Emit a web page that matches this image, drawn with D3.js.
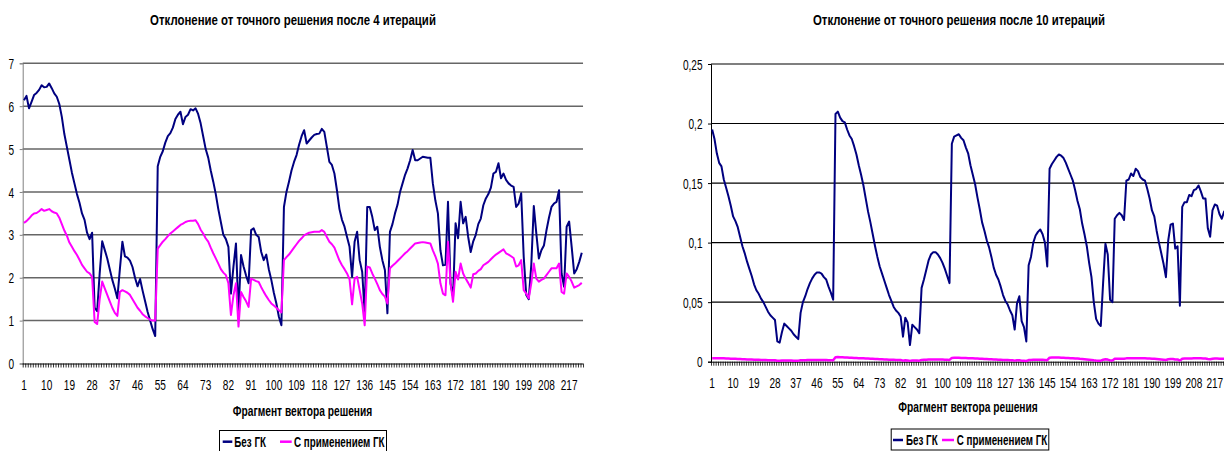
<!DOCTYPE html>
<html>
<head>
<meta charset="utf-8">
<script src="https://cdn.jsdelivr.net/npm/d3@7"></script>
<style>
  body { margin: 0; background: #fff; }
  svg text { font-family: "Liberation Sans", Arial, sans-serif; fill: #000; }
</style>
</head>
<body>
<svg id="chart" width="1224" height="451"></svg>
<script>
var categories = d3.range(1, 223),
    xLabels = [1, 10, 19, 28, 37, 46, 55, 64, 73, 82, 91, 100, 109, 118, 127, 136, 145, 154, 163, 172, 181, 190, 199, 208, 217],
    yTicks4 = [0, 1, 2, 3, 4, 5, 6, 7],
    yTicks10 = [0, 0.05, 0.1, 0.15, 0.2, 0.25],
    seriesNames = ["Без ГК", "С применением ГК"],
    titles = ["Отклонение от точного решения после 4 итераций", "Отклонение от точного решения после 10 итераций"],
    xTitle = "Фрагмент вектора решения";

// после 4 итераций
var noGK4 = [
  6.14,6.24,5.95,6.10,6.26,6.31,6.38,6.49,6.44,6.45,
  6.53,6.42,6.30,6.22,6.05,5.75,5.35,5.05,4.75,4.45,
  4.20,3.95,3.75,3.50,3.35,3.05,2.90,3.05,1.30,1.22,
  2.10,2.85,2.65,2.45,2.20,1.95,1.75,1.52,2.20,2.84,
  2.50,2.47,2.40,2.25,2.00,1.80,1.97,1.70,1.45,1.20,
  1.00,0.80,0.64,4.60,4.82,4.95,5.15,5.30,5.37,5.50,
  5.70,5.80,5.87,5.58,5.75,5.80,5.93,5.90,5.95,5.82,
  5.60,5.30,5.00,4.80,4.50,4.24,3.95,3.60,3.30,3.00,
  2.90,2.72,1.63,2.26,2.80,1.17,2.53,2.26,2.05,1.87,
  3.11,3.15,3.00,2.95,2.60,2.41,2.54,2.20,1.95,1.65,
  1.40,1.09,0.89,3.65,4.00,4.24,4.50,4.70,4.86,5.10,
  5.30,5.44,5.13,5.20,5.27,5.33,5.35,5.36,5.47,5.40,
  5.05,4.70,4.63,4.43,4.04,3.60,3.35,3.19,2.95,2.72,
  2.02,2.84,3.07,2.41,2.14,1.17,3.65,3.65,3.42,3.11,
  3.19,2.72,2.41,2.18,1.17,3.07,3.25,3.50,3.70,4.00,
  4.20,4.40,4.55,4.74,4.98,4.74,4.74,4.78,4.82,4.81,
  4.80,4.80,4.20,3.80,3.50,2.64,2.29,2.30,3.77,1.87,
  1.56,3.27,2.92,3.77,3.27,3.42,2.95,2.60,2.85,3.00,
  3.25,3.38,3.69,3.85,3.95,4.10,4.43,4.47,4.67,4.32,
  4.43,4.28,4.20,4.15,4.12,3.65,3.73,3.97,2.49,1.60,
  1.50,2.30,3.67,3.03,2.45,2.64,2.75,3.10,3.40,3.65,
  3.73,3.77,4.04,2.10,1.79,3.19,3.31,2.72,2.10,2.20,
  2.37,2.58
];
var withGK4 = [
  3.28,3.32,3.38,3.45,3.50,3.51,3.55,3.60,3.56,3.58,
  3.60,3.55,3.52,3.50,3.40,3.25,3.10,2.98,2.82,2.72,
  2.62,2.53,2.42,2.30,2.22,2.14,2.10,2.02,0.97,0.92,
  1.50,1.91,1.75,1.60,1.45,1.30,1.18,1.11,1.67,1.71,
  1.68,1.65,1.60,1.50,1.40,1.30,1.23,1.15,1.10,1.06,
  1.02,1.00,1.00,2.68,2.76,2.84,2.90,2.97,3.03,3.08,
  3.13,3.18,3.23,3.26,3.30,3.32,3.33,3.33,3.34,3.25,
  3.12,3.03,2.92,2.84,2.70,2.57,2.45,2.33,2.20,2.12,
  2.06,1.87,1.13,1.59,1.87,0.86,1.67,1.55,1.45,1.32,
  1.98,1.95,1.92,1.90,1.78,1.67,1.57,1.48,1.40,1.35,
  1.30,1.24,1.19,2.41,2.48,2.54,2.62,2.70,2.78,2.86,
  2.92,2.99,3.02,3.05,3.06,3.07,3.07,3.07,3.11,3.07,
  2.95,2.84,2.78,2.70,2.55,2.40,2.29,2.20,2.10,1.96,
  1.38,1.98,2.02,1.71,1.40,0.89,2.26,2.24,2.10,1.98,
  1.85,1.71,1.62,1.56,1.40,2.22,2.28,2.33,2.39,2.45,
  2.51,2.57,2.62,2.68,2.74,2.80,2.81,2.82,2.83,2.82,
  2.81,2.80,2.64,2.50,2.33,1.87,1.63,1.59,2.84,1.87,
  1.44,2.14,1.96,2.33,2.10,1.98,1.88,1.77,2.08,2.10,
  2.16,2.20,2.29,2.33,2.37,2.43,2.49,2.54,2.58,2.62,
  2.66,2.57,2.54,2.50,2.46,2.26,2.29,2.41,1.71,1.63,
  1.52,1.87,2.33,1.98,1.91,1.95,1.98,2.06,2.14,2.22,
  2.22,2.22,2.33,1.67,1.63,2.10,2.02,1.91,1.77,1.80,
  1.83,1.88
];

// после 10 итераций
var noGK10 = [
  0.195,0.187,0.175,0.167,0.164,0.153,0.146,0.139,0.131,0.122,
  0.118,0.113,0.105,0.097,0.091,0.084,0.078,0.072,0.065,0.060,
  0.057,0.053,0.050,0.046,0.042,0.039,0.037,0.035,0.017,0.016,
  0.025,0.032,0.030,0.028,0.026,0.023,0.021,0.019,0.041,0.050,
  0.055,0.061,0.066,0.070,0.073,0.075,0.075,0.074,0.071,0.069,
  0.063,0.058,0.052,0.208,0.210,0.205,0.202,0.201,0.195,0.190,
  0.187,0.181,0.174,0.165,0.157,0.148,0.137,0.126,0.117,0.107,
  0.097,0.088,0.080,0.074,0.068,0.062,0.056,0.051,0.046,0.043,
  0.041,0.038,0.021,0.037,0.033,0.014,0.031,0.029,0.027,0.024,
  0.062,0.069,0.077,0.085,0.090,0.092,0.092,0.090,0.087,0.083,
  0.078,0.072,0.066,0.183,0.189,0.190,0.191,0.188,0.186,0.180,
  0.175,0.165,0.157,0.149,0.138,0.128,0.117,0.110,0.102,0.096,
  0.088,0.079,0.073,0.069,0.063,0.056,0.051,0.048,0.043,0.039,
  0.027,0.049,0.055,0.034,0.029,0.017,0.081,0.088,0.100,0.106,
  0.109,0.111,0.107,0.100,0.080,0.162,0.166,0.169,0.172,0.174,
  0.173,0.171,0.167,0.162,0.157,0.152,0.144,0.135,0.128,0.116,
  0.107,0.097,0.083,0.071,0.050,0.036,0.032,0.030,0.066,0.099,
  0.090,0.052,0.050,0.120,0.123,0.125,0.123,0.119,0.152,0.153,
  0.158,0.156,0.162,0.160,0.155,0.153,0.152,0.145,0.137,0.127,
  0.122,0.110,0.100,0.091,0.082,0.071,0.102,0.115,0.116,0.095,
  0.097,0.047,0.130,0.134,0.134,0.140,0.139,0.144,0.145,0.148,
  0.143,0.137,0.137,0.112,0.105,0.127,0.132,0.131,0.124,0.120,
  0.126,0.128
];
var withGK10 = [
  0.0030,0.0030,0.0029,0.0029,0.0028,0.0028,0.0027,0.0026,0.0025,0.0024,
  0.0024,0.0023,0.0022,0.0021,0.0020,0.0019,0.0019,0.0018,0.0017,0.0016,
  0.0016,0.0015,0.0014,0.0014,0.0013,0.0013,0.0012,0.0012,0.0008,0.0008,
  0.0010,0.0011,0.0010,0.0010,0.0010,0.0009,0.0009,0.0009,0.0012,0.0013,
  0.0013,0.0014,0.0014,0.0015,0.0015,0.0015,0.0015,0.0015,0.0014,0.0014,
  0.0013,0.0013,0.0012,0.0038,0.0039,0.0038,0.0037,0.0036,0.0035,0.0034,
  0.0033,0.0032,0.0031,0.0030,0.0029,0.0028,0.0027,0.0026,0.0025,0.0024,
  0.0023,0.0022,0.0021,0.0020,0.0019,0.0018,0.0017,0.0016,0.0016,0.0015,
  0.0014,0.0014,0.0009,0.0012,0.0011,0.0007,0.0011,0.0010,0.0010,0.0009,
  0.0015,0.0016,0.0017,0.0018,0.0018,0.0019,0.0019,0.0019,0.0018,0.0018,
  0.0017,0.0016,0.0015,0.0032,0.0033,0.0033,0.0033,0.0032,0.0032,0.0031,
  0.0030,0.0029,0.0028,0.0027,0.0026,0.0025,0.0024,0.0023,0.0022,0.0021,
  0.0020,0.0019,0.0018,0.0017,0.0016,0.0015,0.0015,0.0014,0.0013,0.0013,
  0.0009,0.0012,0.0013,0.0009,0.0008,0.0006,0.0014,0.0015,0.0016,0.0017,
  0.0017,0.0017,0.0016,0.0015,0.0013,0.0034,0.0035,0.0035,0.0035,0.0035,
  0.0034,0.0033,0.0032,0.0031,0.0030,0.0029,0.0027,0.0026,0.0024,0.0023,
  0.0021,0.0019,0.0017,0.0015,0.0012,0.0010,0.0009,0.0009,0.0016,0.0020,
  0.0018,0.0011,0.0010,0.0024,0.0025,0.0025,0.0025,0.0024,0.0028,0.0028,
  0.0029,0.0029,0.0030,0.0030,0.0029,0.0029,0.0028,0.0027,0.0026,0.0025,
  0.0024,0.0022,0.0020,0.0018,0.0016,0.0014,0.0020,0.0023,0.0023,0.0019,
  0.0019,0.0009,0.0025,0.0026,0.0026,0.0027,0.0027,0.0028,0.0028,0.0028,
  0.0028,0.0027,0.0027,0.0022,0.0021,0.0025,0.0026,0.0026,0.0025,0.0024,
  0.0025,0.0025
];

var colors = ["#000080", "#ff00ff"];

var svg = d3.select("#chart");

// текст в исходнике сжат по горизонтали, поэтому scale(sq,1)
function putText(g, x, y, str, size, sq, weight, anchor) {
  return g.append("text")
    .attr("transform", "translate(" + x + "," + y + ") scale(" + sq + ",1)")
    .attr("text-anchor", anchor || "middle")
    .style("font-size", size + "px")
    .style("font-weight", weight || "normal")
    .text(str);
}

function drawChart(c) {
  var g = svg.append("g");
  var n = categories.length;

  var x = d3.scaleBand().domain(categories).range([c.left, c.left + n * c.band]);
  var xEdge = d3.scaleLinear().domain([0, n]).range([c.left, c.left + n * c.band]);
  var y = d3.scaleLinear().domain([0, c.yTicks[c.yTicks.length - 1]]).range([c.bottom, c.top]);

  // сетка
  g.append("g").selectAll("line")
    .data(c.yTicks.slice(1))
    .enter().append("line")
      .attr("x1", c.left).attr("x2", c.left + n * c.band)
      .attr("y1", d => y(d)).attr("y2", d => y(d))
      .attr("stroke", c.gridColor)
      .attr("stroke-width", c.gridWidth);

  // ось Y
  var yAxis = g.append("g")
    .attr("transform", "translate(" + c.left + ",0)")
    .call(d3.axisLeft(y).tickValues(c.yTicks).tickSize(3).tickFormat(c.fmt));
  yAxis.select(".domain").attr("stroke", c.yAxisColor);
  yAxis.selectAll(".tick line").attr("stroke", c.yAxisColor);
  yAxis.selectAll("text")
    .attr("x", 0).attr("dy", "0.36em")
    .attr("transform", "translate(-8.5,0) scale(0.72,1)")
    .style("font-size", "14px").style("font-family", null);

  // ось X: засечки на каждую категорию
  var xTicks = g.append("g")
    .attr("transform", "translate(0," + c.bottom + ")")
    .call(d3.axisBottom(xEdge).tickValues(d3.range(0, n + 1)).tickSize(4).tickFormat(""));
  xTicks.selectAll(".tick line").attr("stroke", "#000").attr("stroke-width", 0.8);
  xTicks.select(".domain").attr("stroke", "#000").attr("d", "M" + c.left + ",0.5H" + (c.left + n * c.band));

  var xAxis = g.append("g")
    .attr("transform", "translate(0," + c.bottom + ")")
    .call(d3.axisBottom(x).tickValues(xLabels).tickSize(0).tickPadding(0));
  xAxis.select(".domain").remove();
  xAxis.selectAll("text")
    .attr("y", 0).attr("dy", null)
    .attr("transform", "translate(0," + c.tickLabelDy + ") scale(0.72,1)")
    .style("font-size", "14px").style("font-family", null);

  // линии
  var line = d3.line()
    .x((d, i) => x(categories[i]) + x.bandwidth() / 2)
    .y(d => y(d));

  c.series.forEach(function (s, k) {
    g.append("path")
      .datum(s)
      .attr("fill", "none")
      .attr("stroke", colors[k])
      .attr("stroke-width", c.lineWidths[k])
      .attr("stroke-linejoin", "round")
      .attr("d", line);
  });

  // подписи
  putText(g, c.titleX, c.titleY, c.title, 15, 0.76, "bold");
  putText(g, c.xTitleX, c.xTitleY, xTitle, 14, 0.73, "bold");

  // легенда
  var L = c.legend;
  g.append("rect")
    .attr("x", L.x + 0.5).attr("y", L.y + 0.5)
    .attr("width", L.w).attr("height", L.h)
    .attr("fill", "#fff").attr("stroke", "#000").attr("stroke-width", 1);
  L.items.forEach(function (it, k) {
    g.append("line")
      .attr("x1", L.x + it.l1).attr("x2", L.x + it.l2)
      .attr("y1", L.y + L.mid).attr("y2", L.y + L.mid)
      .attr("stroke", colors[k]).attr("stroke-width", 2.5);
    putText(g, L.x + it.t, L.y + L.mid + 5, seriesNames[k], 14, 0.7, "bold", "start");
  });
}

drawChart({
  title: titles[0], titleX: 293, titleY: 25,
  left: 22.7, band: 2.524, top: 63.3, bottom: 363.5,
  yTicks: yTicks4, fmt: d => String(d),
  gridColor: "#666", gridWidth: 1.5, yAxisColor: "#808080",
  tickLabelDy: 26.5,
  series: [noGK4, withGK4], lineWidths: [2, 2],
  xTitleX: 302.5, xTitleY: 415.8,
  legend: { x: 219, y: 430, w: 167, h: 22, mid: 11.7,
            items: [{ l1: 3.7, l2: 13.3, t: 15.3 }, { l1: 61, l2: 72.7, t: 75 }] }
});

drawChart({
  title: titles[1], titleX: 959, titleY: 25,
  left: 711, band: 2.327, top: 64, bottom: 361.7,
  yTicks: yTicks10, fmt: d => d === 0 ? "0" : String(d).replace(".", ","),
  gridColor: "#000", gridWidth: 1.1, yAxisColor: "#000",
  tickLabelDy: 26.5,
  series: [noGK10, withGK10], lineWidths: [2, 2.5],
  xTitleX: 968, xTitleY: 411.8,
  legend: { x: 890.7, y: 428.5, w: 157.6, h: 21, mid: 11.5,
            items: [{ l1: 2.3, l2: 12.3, t: 15.3 }, { l1: 51.3, l2: 63.3, t: 66 }] }
});
</script>
</body>
</html>
